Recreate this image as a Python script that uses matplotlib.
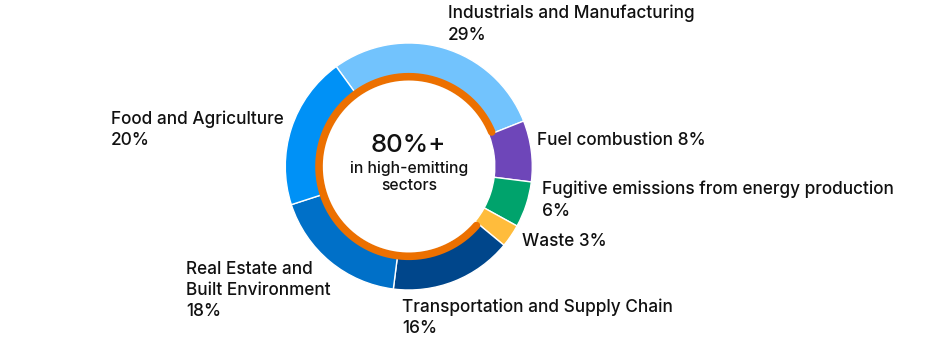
import numpy as np
import matplotlib.pyplot as plt

# sector shares of emissions, clockwise from the upper left
sectors = ['Industrials and Manufacturing', 'Fuel combustion', 'Fugitive emissions from energy production',
           'Waste', 'Transportation and Supply Chain', 'Real Estate and Built Environment', 'Food and Agriculture']
shares = [29, 8, 6, 3, 16, 18, 20]
colors = ['#72c3fd', '#6e46b9', '#00a36c', '#ffbc3c', '#00468b', '#0070c8', '#0091f6']
high_emitting = [True, False, False, False, True, True, True]

label_lines = [
    ['Industrials and Manufacturing', '29%'],
    ['Fuel combustion 8%'],
    ['Fugitive emissions from energy production', '6%'],
    ['Waste 3%'],
    ['Transportation and Supply Chain', '16%'],
    ['Real Estate and', 'Built Environment', '18%'],
    ['Food and Agriculture', '20%'],
]
center_big = '80%+'
center_small = ['in high-emitting', 'sectors']

W, H = 930, 340
# label anchors in pixels: left edge, first baseline
label_pos = [(448, 18.5), (537, 145), (542, 194), (522, 246), (402, 311.5), (186, 273.5), (111, 123.5)]
line_gap = 21.5

plt.rcParams['font.family'] = ['Inter', 'DejaVu Sans']
text_color = '#111111'

fig = plt.figure(figsize=(W / 100, H / 100), dpi=100)
cx, cy, r = 408.8, 166.5, 123.5
ax = fig.add_axes([(cx - r) / W, (H - cy - r) / H, 2 * r / W, 2 * r / H])

start = 126
ring = 37.5 / r
ax.pie(shares, colors=colors, startangle=start, counterclock=False, radius=1,
       wedgeprops=dict(width=ring, edgecolor='white', linewidth=1))

# orange arc over the high-emitting sectors (Transportation round to Industrials)
bounds = start - 360 * np.cumsum([0] + shares) / 100
i_t = high_emitting.index(True, 1)
a0 = bounds[i_t] - 1.5
a1 = bounds[1] - 360 + 1.0
th = np.radians(np.linspace(a0, a1, 400))
rr = 1 - ring + 3.8 / r
ax.plot(rr * np.cos(th), rr * np.sin(th), color='#ec7000', lw=7.6 * 0.72,
        solid_capstyle='round')

ax.set_xlim(-1, 1)
ax.set_ylim(-1, 1)
ax.set_aspect('equal')
ax.axis('off')

def px(x, y):
    return x / W, 1 - y / H

fig.text(*px(cx, 151.7), center_big, fontsize=18.5, fontweight='medium',
         ha='center', va='baseline', color=text_color)
for k, s in enumerate(center_small):
    fig.text(*px(cx, 172.5 + 18 * k), s, fontsize=11.3, fontweight='medium',
             ha='center', va='baseline', color=text_color)

for lines, (x, y) in zip(label_lines, label_pos):
    for k, s in enumerate(lines):
        fig.text(*px(x, y + line_gap * k), s, fontsize=12.4, fontweight='medium',
                 ha='left', va='baseline', color=text_color)

fig.savefig('out.png', dpi=100)
